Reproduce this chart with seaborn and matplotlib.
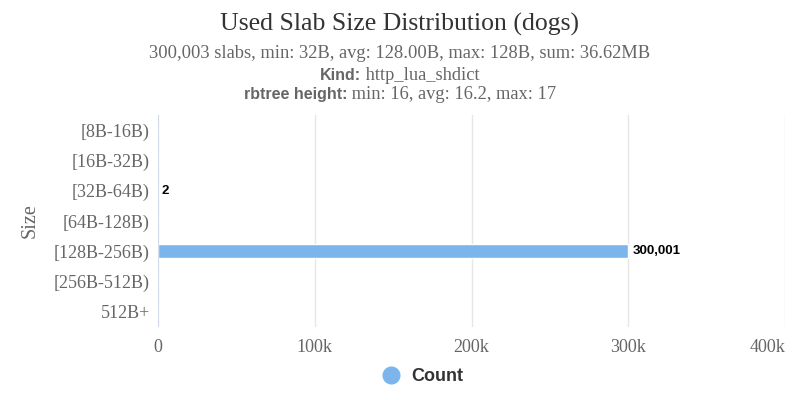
import matplotlib
matplotlib.use("Agg")
import matplotlib.pyplot as plt
import seaborn as sns
import pandas as pd
from matplotlib.lines import Line2D

sizes = ["[8B-16B)", "[16B-32B)", "[32B-64B)", "[64B-128B)", "[128B-256B)", "[256B-512B)", "512B+"]
counts = [0, 0, 2, 0, 300001, 0, 0]
xticks = [0, 100000, 200000, 300000, 400000]
xticklabels = ["0", "100k", "200k", "300k", "400k"]

title = "Used Slab Size Distribution (dogs)"
subtitle1 = "300,003 slabs, min: 32B, avg: 128.00B, max: 128B, sum: 36.62MB"
sub2 = ("Kind:", " http_lua_shdict")
sub3 = ("rbtree height:", " min: 16, avg: 16.2, max: 17")

df = pd.DataFrame({"Size": sizes, "Count": counts})

sns.set_theme(style="white")
SERIF = ["Liberation Serif", "DejaVu Serif"]
SANS = ["Liberation Sans", "DejaVu Sans"]
BLUE = "#7cb5ec"

fig = plt.figure(figsize=(8, 4), dpi=100)
ax = fig.add_axes([0.1975, 0.1825, 0.784, 0.53])
sns.barplot(data=df, x="Count", y="Size", orient="h", color=BLUE, width=0.47,
            saturation=1, ax=ax, order=sizes)

ax.set_xlim(0, 400000)
ax.set_xticks(xticks)
ax.set_xticklabels(xticklabels, family=SERIF, fontsize=13, color="#666666")
last = ax.get_xticklabels()[-1]
last.set_horizontalalignment("right")
ax.set_yticks(range(len(sizes)))
ax.set_yticklabels(sizes, family=SERIF, fontsize=13, color="#666666")
ax.tick_params(axis="x", length=0, pad=9)
ax.tick_params(axis="y", length=0, pad=6)
ax.set_xlabel("")
ax.set_ylabel("Size", family=SERIF, fontsize=14.5, color="#666666", labelpad=10)
for s in ax.spines.values():
    s.set_visible(False)
ax.grid(axis="x", color="#e6e6e6", linewidth=1)
ax.set_axisbelow(True)
ax.axvline(0, color="#ccd6eb", linewidth=1.2, zorder=1)

for i, v in enumerate(counts):
    if v > 0:
        ax.text(v + 2500, i, f"{v:,}", va="center", ha="left", family=SANS,
                fontsize=9.5, fontweight="bold", color="#000000")

# titles
fig.text(0.5, 0.94, title, ha="center", va="center", family=SERIF, fontsize=18.5, color="#333333")
fig.text(0.5, 0.867, subtitle1, ha="center", va="center", family=SERIF, fontsize=13.3, color="#666666")

fig.canvas.draw()
renderer = fig.canvas.get_renderer()

def two_part(y, bold, normal):
    t1 = fig.text(0, y, bold, ha="left", va="baseline", family=SANS, fontsize=11.5,
                  fontweight="bold", color="#666666")
    t2 = fig.text(0, y, normal, ha="left", va="baseline", family=SERIF, fontsize=13.3,
                  color="#666666")
    w1 = t1.get_window_extent(renderer).width / fig.bbox.width
    w2 = t2.get_window_extent(renderer).width / fig.bbox.width
    x0 = 0.5 - (w1 + w2) / 2
    t1.set_x(x0)
    t2.set_x(x0 + w1)

two_part(0.8, *sub2)
two_part(0.752, *sub3)

handle = Line2D([], [], marker="o", linestyle="", markersize=12, color=BLUE)
leg = fig.legend([handle], ["Count"], loc="center", bbox_to_anchor=(0.523, 0.058),
                 frameon=False, handletextpad=0.1,
                 prop={"family": SANS, "weight": "bold", "size": 13})
for t in leg.get_texts():
    t.set_color("#333333")

fig.savefig("out.png", dpi=100)
